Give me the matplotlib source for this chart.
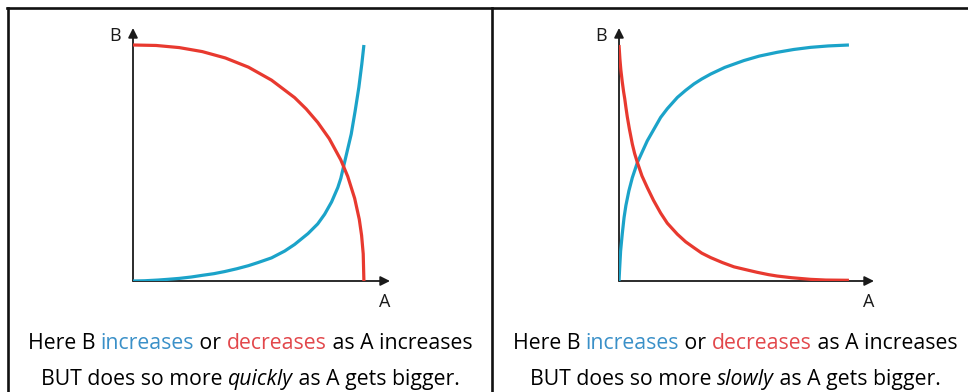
import matplotlib
matplotlib.use("Agg")
import matplotlib.pyplot as plt
from matplotlib.lines import Line2D

plt.rcParams['font.family'] = ['Open Sans', 'DejaVu Sans']

RED = '#e8392f'
BLUE = '#1ba3c9'
TXT_RED = '#e2474b'
TXT_BLUE = '#3a90c8'

# left panel: B changes faster and faster as A grows
fast_red_a = [0, 1, 2, 3, 4, 5, 6, 7, 7.5, 8, 8.5, 9, 9.3, 9.6, 9.8, 9.9, 9.97, 10]
fast_red_b = [10, 9.98, 9.89, 9.72, 9.45, 9.06, 8.51, 7.77, 7.29, 6.72, 6.03, 5.13, 4.43, 3.50, 2.61, 1.93, 1.15, 0]
fast_blue_a = [0, 0.5, 1.08, 1.5, 2, 2.53, 3, 3.5, 3.97, 4.5, 5, 5.41, 6, 6.57, 7, 7.58, 8, 8.3,
               8.6, 8.87, 9.0, 9.16, 9.3, 9.45, 9.62, 9.78, 9.91, 10]
fast_blue_b = [0, 0.01, 0.04, 0.07, 0.11, 0.17, 0.24, 0.31, 0.40, 0.52, 0.65, 0.78, 0.98, 1.27, 1.55, 2.01, 2.42, 2.83,
               3.35, 3.96, 4.35, 5.02, 5.6, 6.22, 7.2, 8.2, 9.2, 10]

# right panel: B changes more and more slowly as A grows
slow_red_a = [0, 0.04, 0.08, 0.14, 0.2, 0.25, 0.3, 0.36, 0.45, 0.58, 0.68, 0.8, 1.0, 1.23, 1.5, 1.81, 2.1,
              2.54, 2.9, 3.26, 3.6, 3.99, 4.5, 5.0, 5.43, 6.0, 6.5, 6.88, 7.5, 8.33, 9.0, 10]
slow_red_b = [10, 9.4, 8.95, 8.45, 8.02, 7.72, 7.36, 6.96, 6.45, 5.8, 5.4, 5.02, 4.45, 3.96, 3.42, 2.88, 2.45,
              1.98, 1.66, 1.41, 1.18, 0.99, 0.78, 0.6, 0.5, 0.37, 0.27, 0.21, 0.14, 0.07, 0.04, 0.03]
slow_blue_a = [0, 0.03, 0.07, 0.14, 0.22, 0.3, 0.43, 0.58, 0.8, 1.0, 1.23, 1.5, 1.81, 2.1, 2.54, 2.9, 3.26,
               3.6, 3.99, 4.6, 5.43, 6.1, 6.88, 7.6, 8.33, 9.1, 10]
slow_blue_b = [0, 0.57, 1.27, 1.98, 2.69, 3.2, 3.82, 4.38, 5.02, 5.45, 5.94, 6.4, 6.93, 7.3, 7.78, 8.08, 8.35,
               8.56, 8.77, 9.05, 9.34, 9.53, 9.69, 9.81, 9.90, 9.96, 10]

captions = [
    [[("Here B ", 'k', 'normal'), ("increases", TXT_BLUE, 'normal'), (" or ", 'k', 'normal'),
      ("decreases", TXT_RED, 'normal'), (" as A increases", 'k', 'normal')],
     [("BUT does so more ", 'k', 'normal'), ("quickly", 'k', 'italic'), (" as A gets bigger.", 'k', 'normal')]],
    [[("Here B ", 'k', 'normal'), ("increases", TXT_BLUE, 'normal'), (" or ", 'k', 'normal'),
      ("decreases", TXT_RED, 'normal'), (" as A increases", 'k', 'normal')],
     [("BUT does so more ", 'k', 'normal'), ("slowly", 'k', 'italic'), (" as A gets bigger.", 'k', 'normal')]],
]

W, H = 968, 392
fig = plt.figure(figsize=(W / 100, H / 100), dpi=100)


def px(x, y):
    return x / W, 1 - y / H


# outer frame and divider
frame_kw = dict(color='#111111', lw=1.9, transform=fig.transFigure)
fig.add_artist(Line2D([7 / W, 1], [1 - 8 / H] * 2, **frame_kw))
fig.add_artist(Line2D([8 / W] * 2, [0, 1 - 8 / H], **frame_kw))
fig.add_artist(Line2D([492 / W] * 2, [0, 1 - 8 / H], **frame_kw))

panels = [
    (133, 390, 11.13, fast_red_a, fast_red_b, fast_blue_a, fast_blue_b),
    (619, 874, 11.09, slow_red_a, slow_red_b, slow_blue_a, slow_blue_b),
]

for (x0, x1, xmax, ra, rb, ba, bb) in panels:
    y0, y1 = 281, 28
    ax = fig.add_axes([x0 / W, 1 - y0 / H, (x1 - x0) / W, (y0 - y1) / H])
    ax.set_xlim(0, xmax)
    ax.set_ylim(0, 10.72)
    ax.axis('off')
    ax.plot(ba, bb, color=BLUE, lw=2.3, solid_capstyle='butt', solid_joinstyle='round', zorder=3)
    ax.plot(ra, rb, color=RED, lw=2.3, solid_capstyle='butt', solid_joinstyle='round', zorder=3)
    arrow = dict(arrowstyle='-|>', color='#1a1a1a', lw=1.3, mutation_scale=14, shrinkA=0, shrinkB=0)
    ax.annotate('', xy=(1, 0), xytext=(0, 0), xycoords='axes fraction', arrowprops=arrow, zorder=2)
    ax.annotate('', xy=(0, 1), xytext=(0, 0), xycoords='axes fraction', arrowprops=arrow, zorder=2)
    fig.text(*px(x0 - 18, 36), 'B', fontsize=13, ha='center', va='center', color='#1a1a1a')
    fig.text(*px(x1 - 5, 302), 'A', fontsize=13, ha='center', va='center', color='#1a1a1a')

# captions with coloured words, laid out piece by piece
renderer = fig.canvas.get_renderer()
centres = [250, 735]
for cx, lines in zip(centres, captions):
    for row, pieces in enumerate(lines):
        base_y = 349 + row * 36
        texts = []
        for s, c, st in pieces:
            t = fig.text(0, 1 - base_y / H, s, color=c, style=st, fontsize=15.3,
                         ha='left', va='baseline')
            texts.append(t)
        widths = [t.get_window_extent(renderer).width for t in texts]
        x = cx - sum(widths) / 2
        for t, w in zip(texts, widths):
            t.set_x(x / W)
            x += w

fig.savefig('out.png', dpi=100)
